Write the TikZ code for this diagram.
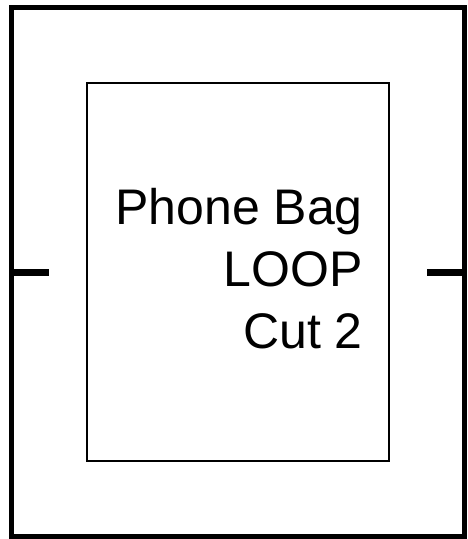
\documentclass[tikz,border=0pt]{standalone}
\usepackage{fontspec}
\setmainfont{Liberation Sans}
\tikzset{
  frame/.style={draw, line width=5pt, minimum width=453.5pt, minimum height=529pt, inner sep=0pt},
  panel/.style={draw, line width=2pt, minimum width=302pt, minimum height=378.5pt, inner sep=0pt},
  tick/.style={line width=7pt},
}
\begin{document}
\begin{tikzpicture}[x=1pt, y=-1pt]
    \useasboundingbox (0,0) rectangle (467,539);

    % Rahmen
    \node[frame] (outer) at (237.75,272) {};
    \node[panel] (inner) at (238,271.75) {};

    % Beschriftung
    \node[font=\fontsize{50}{62}\selectfont, align=right, anchor=base east, inner sep=0pt] (label) at (363,348) {Phone Bag\\LOOP\\Cut 2};

    % Markierungen
    \coordinate (lend) at (49,272);
    \coordinate (rend) at (427,272);
    \draw[tick] (outer.west) ++(2,0) -- (lend);
    \draw[tick] (outer.east) ++(-2,0) -- (rend);
\end{tikzpicture}
\end{document}
